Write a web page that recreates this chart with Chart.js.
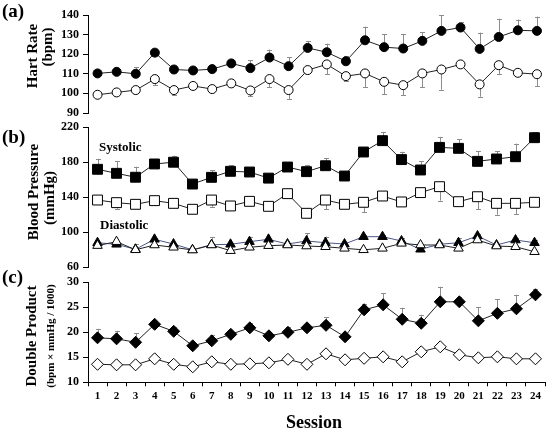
<!DOCTYPE html>
<html>
<head>
<meta charset="utf-8">
<script src="https://cdn.jsdelivr.net/npm/chart.js@4"></script>
<style>
  body { margin: 0; background: #fff; }
  #wrap { position: relative; width: 552px; height: 433px; font-family: "Liberation Serif", "Times New Roman", serif; font-weight: bold; color: #000; }
  canvas { position: absolute; left: 0; top: 0; }
  .lbl { position: absolute; white-space: nowrap; line-height: 1; }
  .rot { transform: translate(-50%, -50%) rotate(-90deg); }
</style>
</head>
<body>
<div id="wrap">
  <canvas id="chartA" width="552" height="433"></canvas>
  <canvas id="chartB" width="552" height="433"></canvas>
  <canvas id="chartC" width="552" height="433"></canvas>

  <div class="lbl" style="left:2px;top:1px;font-size:19px">(a)</div>
  <div class="lbl" style="left:2px;top:127px;font-size:19px">(b)</div>
  <div class="lbl" style="left:2px;top:267px;font-size:19px">(c)</div>

  <div class="lbl rot" style="left:32px;top:56px;font-size:15px">Hart Rate</div>
  <div class="lbl rot" style="left:47px;top:47px;font-size:15px">(bpm)</div>
  <div class="lbl rot" style="left:33px;top:192px;font-size:15px">Blood Pressure</div>
  <div class="lbl rot" style="left:49px;top:198px;font-size:15px">(mmHg)</div>
  <div class="lbl rot" style="left:31px;top:336px;font-size:15px">Double Product</div>
  <div class="lbl rot" style="left:50px;top:336px;font-size:11px">(bpm × mmHg / 1000)</div>

  <div class="lbl" style="left:99px;top:140px;font-size:13px">Systolic</div>
  <div class="lbl" style="left:100px;top:218px;font-size:13px">Diastolic</div>
  <div class="lbl" style="left:286px;top:413px;font-size:18px">Session</div>
</div>

<script>
const sessions = ['1','2','3','4','5','6','7','8','9','10','11','12','13','14','15','16','17','18','19','20','21','22','23','24'];

// (a) heart rate
const hrHigh = [110.2, 111, 110, 120.8, 112.2, 111.7, 112.4, 115.3, 112.9, 118.3, 113.9, 123.2, 121, 116.4, 127.1, 123.6, 122.9, 126.8, 131.9, 133.6, 122.7, 128.8, 132.2, 131.9];
const hrHighSd = [0, 0, 3.5, 0, 0, 0, 0, 0, 4, 4, 4.5, 3.6, 4.4, 2.6, 7, 6.7, 7.4, 4.5, 8, 2.8, 8.3, 9.3, 5.5, 7.3];
const hrLow = [99.3, 100.5, 101.7, 107.3, 101.7, 103.8, 102.2, 105.1, 101.5, 107.3, 101.7, 111.9, 114.8, 108.8, 110.2, 105.9, 104.2, 110.2, 112.2, 114.8, 104.6, 114.4, 110.5, 109.8];
const hrLowSd = [1, 0, 0, 3, 2.5, 0, 0, 0, 3, 4, 4.5, 1.5, 5, 2.5, 7, 6.3, 5, 7, 10.3, 1, 6.3, 4.6, 1.5, 6];

// (b) blood pressure
const sysHigh = [171.9, 167.3, 162.8, 178, 180, 155, 162.7, 169.6, 168.8, 161.8, 174.5, 169.2, 176, 164.2, 191.7, 204.7, 183, 171.1, 197, 195.9, 181, 183.7, 186.3, 208.1];
const sysHighSd = [12, 14, 12, 1, 7.5, 0, 8, 7, 1, 3, 2, 7.6, 8.5, 0, 0, 10, 9, 10, 12, 10.4, 12, 9, 15, 6];
const sysLow = [136.7, 133.7, 131.8, 136, 132.9, 126.1, 136.7, 129.9, 135.2, 129.5, 144, 121.5, 136.7, 131.8, 134.1, 141.3, 134.5, 145.2, 152, 134.8, 140.5, 132.9, 132.9, 134.1];
const sysLowSd = [0, 7, 0, 3, 0, 0, 7.7, 0, 0, 2, 0, 2, 10.7, 0, 11.5, 2, 2, 0, 16, 0, 14.5, 13, 12, 2];
const diaHigh = [87.8, 86, 80.3, 91.7, 86.3, 79.7, 85.5, 86, 89, 91.7, 86.3, 89.8, 87.8, 86.3, 94.7, 94.7, 89.8, 80.3, 86, 87.8, 95.5, 85.2, 90.9, 87.8];
const diaHighSd = [0, 0, 6, 2, 0, 0, 9, 0, 5.5, 0, 0, 9, 7, 0, 1.5, 1.5, 3, 0, 3, 5, 2, 0, 2, 3];
const diaLow = [84.5, 89, 79.7, 85.2, 82.6, 79.4, 85.2, 78.7, 82.6, 84.4, 85.2, 84, 83.2, 81.4, 79.7, 81.4, 87.1, 85.2, 85.2, 81.4, 90.9, 84, 83.2, 77.5];

// (c) double product
const dpHigh = [18.9, 18.7, 18, 21.6, 20.2, 17.3, 18.3, 19.6, 20.9, 19.3, 20, 20.9, 21.4, 19.1, 24.5, 25.5, 22.6, 21.8, 26.1, 26.1, 22.3, 23.8, 24.7, 27.5];
const dpHighSd = [1.8, 1.6, 1.8, 0.5, 0.9, 0, 1.1, 0, 1, 0, 1.1, 0, 1.6, 0, 1.2, 2.3, 2.3, 1.7, 3, 1, 2.8, 2.8, 2.8, 1.2];
const dpLow = [13.6, 13.5, 13.5, 14.7, 13.6, 13.1, 14.1, 13.6, 13.7, 13.9, 14.6, 13.6, 15.7, 14.5, 14.8, 15.1, 14.1, 16.1, 17.1, 15.5, 14.9, 15.1, 14.7, 14.7];

const tickFont = { family: 'Liberation Serif', weight: 'bold', size: 12 };

// whiskers under the markers, up for the filled series, down for the open ones
const errorBars = {
  id: 'errorBars',
  beforeDatasetsDraw(chart) {
    const ctx = chart.ctx;
    const yScale = chart.scales.y;
    chart.data.datasets.forEach((ds, i) => {
      if (!ds.err) return;
      const meta = chart.getDatasetMeta(i);
      ctx.save();
      ctx.strokeStyle = '#8c8c8c';
      ctx.lineWidth = 1;
      meta.data.forEach((pt, j) => {
        const sd = ds.err[j];
        if (!sd) return;
        const y = yScale.getPixelForValue(ds.data[j] + ds.errDir * sd);
        const x = Math.round(pt.x) + 0.5;
        ctx.beginPath();
        ctx.moveTo(x, pt.y);
        ctx.lineTo(x, y);
        ctx.moveTo(x - 2.5, Math.round(y) + 0.5);
        ctx.lineTo(x + 2.5, Math.round(y) + 0.5);
        ctx.stroke();
      });
      ctx.restore();
    });
  }
};

function series(data, style, radius, filled, lineColor, err, errDir) {
  return {
    data: data,
    pointStyle: style,
    pointRadius: radius,
    pointBackgroundColor: filled ? '#000' : '#fff',
    pointBorderColor: '#000',
    pointBorderWidth: 1,
    borderColor: lineColor,
    borderWidth: 1,
    tension: 0,
    clip: false,
    err: err,
    errDir: errDir
  };
}

function yAxis(min, max, step) {
  return {
    min: min,
    max: max,
    afterFit: s => { s.width = 88; },
    ticks: { stepSize: step, color: '#000', font: tickFont, padding: 4 },
    grid: { drawOnChartArea: false, tickLength: 5, color: '#000' },
    border: { color: '#000', width: 1 }
  };
}

function makeChart(id, datasets, y, padTop, padBottom, showX) {
  const x = showX ? {
    type: 'category',
    offset: true,
    afterFit: s => { s.height = 22; },
    grid: { offset: true, drawOnChartArea: false, tickLength: 4, color: '#000' },
    border: { color: '#000', width: 1 },
    ticks: { color: '#000', font: { family: 'Liberation Serif', weight: 'bold', size: 11 }, padding: 3, maxRotation: 0, autoSkip: false }
  } : { type: 'category', offset: true, display: false };

  return new Chart(document.getElementById(id), {
    type: 'line',
    data: { labels: sessions, datasets: datasets },
    options: {
      responsive: false,
      animation: false,
      layout: { padding: { top: padTop, bottom: padBottom, left: 0, right: 1 } },
      plugins: { legend: { display: false }, tooltip: { enabled: false } },
      scales: { x: x, y: y }
    },
    plugins: [errorBars]
  });
}

makeChart('chartA', [
  series(hrLow, 'circle', 4.5, false, '#222', hrLowSd, -1),
  series(hrHigh, 'circle', 4.5, true, '#222', hrHighSd, 1)
], yAxis(90, 140, 10), 15, 320, false);

makeChart('chartB', [
  series(sysLow, 'rect', 7, false, '#222', sysLowSd, -1),
  series(sysHigh, 'rect', 7, true, '#222', sysHighSd, 1),
  series(diaLow, 'triangle', 5.5, false, '#222', null, -1),
  series(diaHigh, 'triangle', 5.5, true, '#4a5688', diaHighSd, 1)
], yAxis(60, 220, 40), 127.3, 166, false);

makeChart('chartC', [
  series(dpLow, 'rectRot', 6, false, '#222', null, -1),
  series(dpHigh, 'rectRot', 6, true, '#222', dpHighSd, 1)
], yAxis(10, 30, 5), 282.3, 28.7, true);
</script>
</body>
</html>
